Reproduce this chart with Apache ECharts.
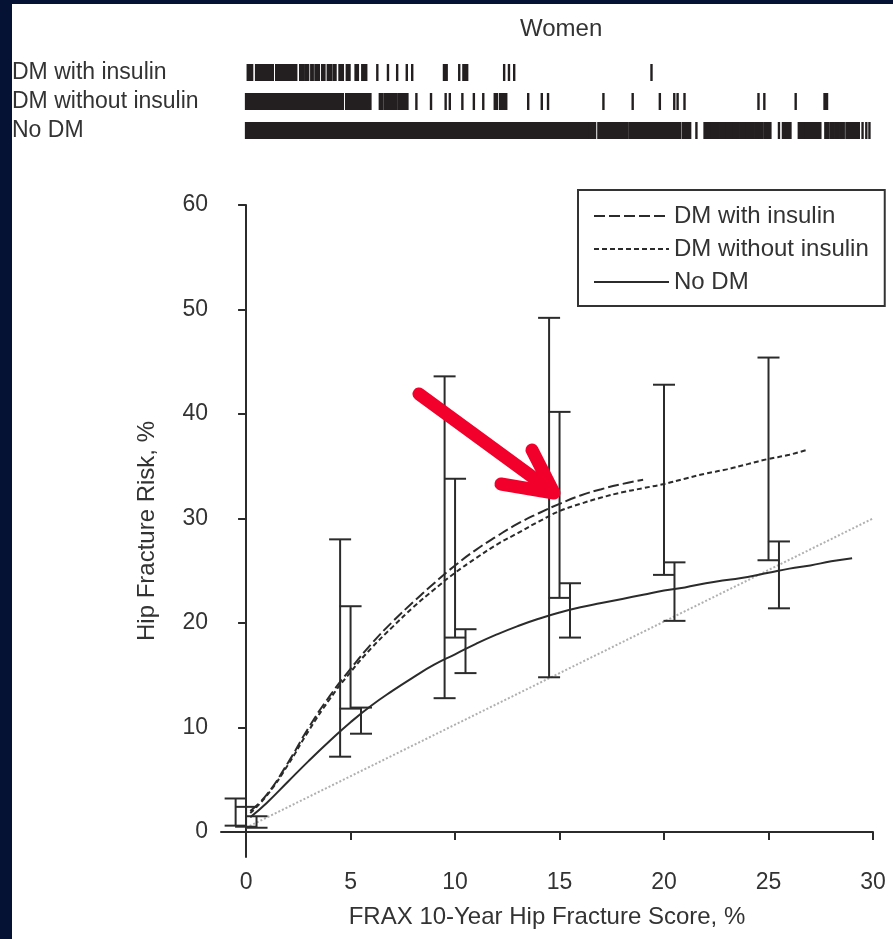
<!DOCTYPE html>
<html>
<head>
<meta charset="utf-8">
<script src="https://cdn.jsdelivr.net/npm/echarts@6.0.0/dist/echarts.min.js"></script>
<style>
  html, body { margin: 0; padding: 0; background: #061234; }
  #c_container { width: 893px; height: 939px; }
</style>
</head>
<body>
<div id="c_container"></div>
<script>
var font_family = '"Liberation Sans", Arial, sans-serif';
var text_color = "#333";
var ink = "#2b2b2b";

// tick labels
var xTicks = [0, 5, 10, 15, 20, 25, 30];
var yTicks = [0, 10, 20, 30, 40, 50, 60];
var groups = ["DM with insulin", "DM without insulin", "No DM"];

// fitted curves (FRAX score -> observed risk)
var insulinX = [0.2, 1, 2, 3, 4, 5, 6, 7, 8, 9, 10, 11, 12, 13, 14, 15, 16, 17, 18, 19];
var insulinY = [2.0, 3.6, 6.6, 10.0, 13.0, 15.6, 18.0, 20.1, 22.0, 23.8, 25.5, 27.0, 28.3, 29.5, 30.5, 31.4, 32.2, 32.8, 33.3, 33.7];
var withoutX = [0.2, 1, 2, 3, 4, 5, 6, 7, 8, 9, 10, 11, 12, 13, 14, 15, 16, 17, 18, 19, 20, 21, 22, 23, 24, 25, 26, 26.9];
var withoutY = [1.8, 3.5, 6.4, 9.7, 12.7, 15.3, 17.6, 19.6, 21.5, 23.2, 24.8, 26.2, 27.5, 28.6, 29.7, 30.7, 31.4, 32.0, 32.5, 32.9, 33.3, 33.8, 34.3, 34.7, 35.2, 35.7, 36.1, 36.6];
var noDmX = [0.2, 1, 2, 3, 4, 5, 6, 7, 8, 9, 10, 11, 12, 13, 14, 15, 16, 17, 18, 19, 20, 21, 22, 23, 24, 25, 26, 27, 28, 29];
var noDmY = [1.4, 2.8, 4.8, 6.8, 8.7, 10.5, 12.1, 13.5, 14.8, 16.0, 17.0, 18.0, 18.9, 19.7, 20.4, 21.0, 21.5, 21.9, 22.3, 22.7, 23.1, 23.4, 23.8, 24.1, 24.4, 24.8, 25.2, 25.5, 25.9, 26.2];
var identityX = [0, 30];
var identityY = [0.4, 30];

// observed risk with 95% CI: [frax, low, high]
var insulinCI = [[-0.5, 0.6, 3.2], [4.5, 7.2, 28.0], [9.5, 12.8, 43.6], [14.5, 14.8, 49.2]];
var withoutCI = [[0, 0.5, 2.4], [5, 11.8, 21.6], [10, 18.6, 33.8], [15, 22.4, 40.2], [20, 24.6, 42.8], [25, 26.0, 45.4]];
var noDmCI = [[0.5, 0.4, 1.5], [5.5, 9.4, 11.9], [10.5, 15.2, 19.4], [15.5, 18.6, 23.8], [20.5, 20.2, 25.8], [25.5, 21.4, 27.8]];

// rug of individual FRAX scores: [from, to]
var rugInsulin = [[0.08, 0.29], [0.48, 1.28], [1.44, 1.6], [1.68, 2.4], [2.59, 2.75], [2.84, 2.97], [3.12, 3.19], [3.32, 3.48], [3.64, 3.75], [3.91, 4.07], [4.19, 4.28], [4.47, 4.63], [4.82, 4.95], [5.24, 5.35], [5.56, 5.75], [6.28, 6.28], [6.79, 6.79], [7.23, 7.23], [7.69, 7.69], [7.95, 7.95], [9.47, 9.6], [10.2, 10.2], [10.4, 10.58], [12.35, 12.35], [12.58, 12.58], [12.83, 12.83], [19.4, 19.4]];
var rugWithout = [[0, 4.63], [4.79, 4.92], [5.03, 5.16], [5.27, 5.4], [5.51, 5.62], [5.7, 5.95], [6.4, 6.5], [6.62, 6.75], [6.85, 6.98], [7.08, 7.2], [7.3, 7.42], [7.52, 7.72], [8.15, 8.15], [8.85, 8.85], [9.55, 9.55], [9.75, 9.75], [10.35, 10.35], [10.9, 10.9], [11.35, 11.35], [11.9, 12.0], [12.15, 12.45], [13.5, 13.5], [14.15, 14.15], [14.45, 14.45], [17.1, 17.1], [18.5, 18.5], [19.8, 19.8], [20.49, 20.49], [20.65, 20.65], [20.98, 20.98], [24.52, 24.52], [24.8, 24.8], [26.3, 26.3], [27.68, 27.8]];
var rugNoDm = [[0, 16.38], [16.46, 16.7], [16.86, 18.22], [18.34, 20.77], [20.9, 21.25], [21.55, 21.55], [21.94, 22.21], [22.29, 22.61], [22.69, 22.93], [23.01, 23.25], [23.33, 23.57], [23.65, 23.89], [23.97, 24.29], [24.37, 24.69], [24.8, 25.09], [25.5, 25.5], [25.69, 25.81], [25.89, 26.05], [26.45, 26.69], [26.77, 27.01], [27.09, 27.25], [27.33, 27.48], [27.72, 27.84], [27.96, 28.12], [28.2, 28.36], [28.44, 28.6], [28.73, 29.32], [29.5, 29.5], [29.68, 29.68], [29.83, 29.83]];

function zip(xs, ys) {
  var out = [];
  for (var i = 0; i < xs.length; i++) out.push([xs[i], ys[i]]);
  return out;
}

function rugRows() {
  var out = [];
  var lists = [rugInsulin, rugWithout, rugNoDm];
  for (var r = 0; r < lists.length; r++) {
    for (var k = 0; k < lists[r].length; k++) {
      out.push([lists[r][k][0], lists[r][k][1], r]);
    }
  }
  return out;
}

function errorBar(params, api) {
  var top = api.coord([api.value(0), api.value(2)]);
  var bot = api.coord([api.value(0), api.value(1)]);
  var w = 11;
  var st = { stroke: ink, lineWidth: 2 };
  return {
    type: "group",
    children: [
      { type: "line", shape: { x1: top[0], y1: top[1], x2: bot[0], y2: bot[1] }, style: st },
      { type: "line", shape: { x1: top[0] - w, y1: top[1], x2: top[0] + w, y2: top[1] }, style: st },
      { type: "line", shape: { x1: bot[0] - w, y1: bot[1], x2: bot[0] + w, y2: bot[1] }, style: st },
    ],
  };
}

function rugMark(params, api) {
  var a = api.coord([api.value(0), api.value(2)]);
  var b = api.coord([api.value(1), api.value(2)]);
  var h = 17;
  return {
    type: "rect",
    shape: { x: a[0] - 1.2, y: a[1] - h / 2, width: b[0] - a[0] + 2.4, height: h },
    style: { fill: "#231f20" },
  };
}

var myChart = echarts.init(document.getElementById("c_container"));

function ciSeries(data) {
  return {
    type: "custom",
    xAxisIndex: 0,
    yAxisIndex: 0,
    renderItem: errorBar,
    encode: { x: 0, y: [1, 2] },
    data: data,
    z: 3,
  };
}

myChart.setOption({
  animation: false,
  backgroundColor: "#061234",
  textStyle: { fontFamily: font_family },
  graphic: [
    { type: "rect", z: -10, shape: { x: 12, y: 4, width: 881, height: 935 }, style: { fill: "#fff" } },
    {
      type: "polyline", z: 100,
      shape: { points: [[419, 394], [553, 492]] },
      style: { stroke: "#f2002b", lineWidth: 13, lineCap: "round", lineJoin: "round", fill: null },
    },
    {
      type: "polyline", z: 100,
      shape: { points: [[501, 484], [554, 493], [532, 450]] },
      style: { stroke: "#f2002b", lineWidth: 13, lineCap: "round", lineJoin: "round", fill: null },
    },
  ],
  title: {
    text: "Women",
    left: 515,
    top: 12,
    textStyle: { fontSize: 24, fontWeight: "normal", color: text_color, fontFamily: font_family },
  },
  legend: {
    data: groups,
    orient: "vertical",
    left: 578,
    top: 190,
    padding: [14, 16, 12, 15],
    itemGap: 9,
    itemWidth: 75,
    itemHeight: 14,
    itemStyle: { opacity: 0 },
    borderColor: "#333",
    borderWidth: 2,
    textStyle: { fontSize: 24, color: text_color, fontFamily: font_family },
  },
  grid: [
    { left: 221, right: 20, top: 205, bottom: 82 },
    { left: 221, right: 20, top: 58, height: 87 },
  ],
  xAxis: [
    {
      type: "value",
      gridIndex: 0,
      min: -1.2,
      max: 30,
      splitLine: { show: false },
      axisLine: { show: true, lineStyle: { color: ink, width: 2 } },
      axisTick: { show: true, customValues: xTicks, length: 8, lineStyle: { color: ink, width: 2 } },
      axisLabel: { customValues: xTicks, fontSize: 23, color: text_color, margin: 14, fontFamily: font_family },
      name: "FRAX 10-Year Hip Fracture Score, %",
      nameLocation: "middle",
      nameGap: 48,
      nameTextStyle: { fontSize: 24, color: text_color, fontFamily: font_family },
    },
    {
      type: "value",
      gridIndex: 1,
      min: -1.2,
      max: 30,
      show: false,
    },
  ],
  yAxis: [
    {
      type: "value",
      gridIndex: 0,
      min: -2.4,
      max: 60,
      splitLine: { show: false },
      axisLine: { show: true, lineStyle: { color: ink, width: 2 } },
      axisTick: { show: true, customValues: yTicks, length: 8, lineStyle: { color: ink, width: 2 } },
      axisLabel: { customValues: yTicks, fontSize: 23, color: text_color, margin: 13, fontFamily: font_family },
      name: "Hip Fracture Risk, %",
      nameLocation: "middle",
      nameRotate: 90,
      nameGap: 62,
      nameTextStyle: { fontSize: 24, color: text_color, fontFamily: font_family },
    },
    {
      type: "category",
      gridIndex: 1,
      inverse: true,
      data: groups,
      axisLine: { show: false },
      axisTick: { show: false },
      axisLabel: { interval: 0, align: "left", margin: 209, fontSize: 23, color: text_color, fontFamily: font_family },
    },
  ],
  series: [
    {
      name: "identity",
      type: "line",
      data: zip(identityX, identityY),
      symbol: "none",
      lineStyle: { color: "#b0b0b0", width: 2, type: [2, 2] },
      z: 2,
    },
    {
      name: groups[0],
      type: "line",
      data: zip(insulinX, insulinY),
      smooth: true,
      symbol: "none",
      itemStyle: { color: ink },
      lineStyle: { color: ink, width: 2, type: [11, 4] },
    },
    {
      name: groups[1],
      type: "line",
      data: zip(withoutX, withoutY),
      smooth: true,
      symbol: "none",
      itemStyle: { color: ink },
      lineStyle: { color: ink, width: 2, type: [5, 3] },
    },
    {
      name: groups[2],
      type: "line",
      data: zip(noDmX, noDmY),
      smooth: true,
      symbol: "none",
      itemStyle: { color: ink },
      lineStyle: { color: ink, width: 2 },
    },
    ciSeries(insulinCI),
    ciSeries(withoutCI),
    ciSeries(noDmCI),
    {
      type: "custom",
      xAxisIndex: 1,
      yAxisIndex: 1,
      renderItem: rugMark,
      encode: { x: [0, 1], y: 2 },
      data: rugRows(),
    },
  ],
});
</script>
</body>
</html>
